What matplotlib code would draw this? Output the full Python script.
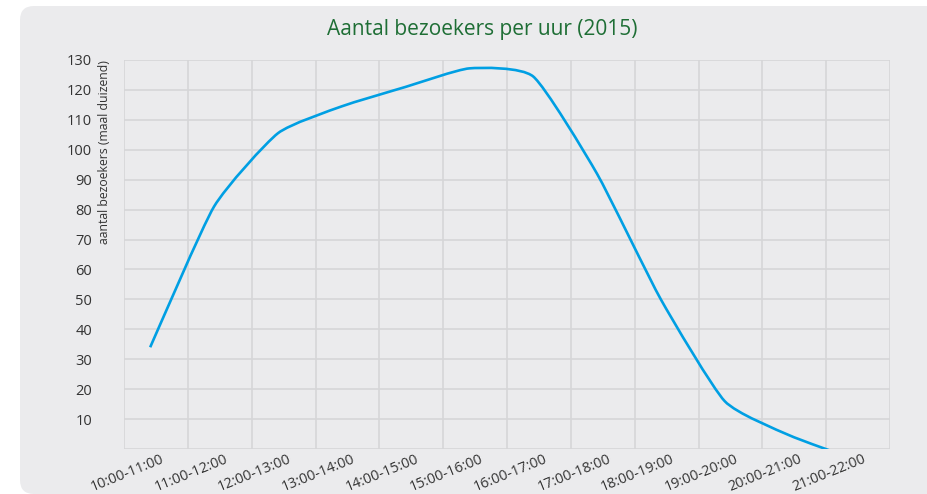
import numpy as np
import matplotlib
matplotlib.use('Agg')
import matplotlib.pyplot as plt
from matplotlib.patches import FancyBboxPatch, PathPatch
from matplotlib.path import Path

# data: aantal bezoekers per uur (maal duizend)
uren = ['10:00-11:00', '11:00-12:00', '12:00-13:00', '13:00-14:00',
        '14:00-15:00', '15:00-16:00', '16:00-17:00', '17:00-18:00',
        '18:00-19:00', '19:00-20:00', '20:00-21:00', '21:00-22:00']
bezoekers = [34, 81, 105.5, 114.5, 121, 127.2, 124.5, 92, 50, 16, 4.7, -3.2]
y_ticks = [0, 10, 20, 30, 40, 50, 60, 70, 80, 90, 100, 110, 120, 130]

W, H = 927, 494
plt.rcParams['font.family'] = ['Open Sans', 'DejaVu Sans']


def smooth_path(xs, ys, t=0.55):
    # catmull-rom als bezier-curves, zoals een 'vloeiende lijn' in Excel
    p = np.column_stack([xs, ys]).astype(float)
    verts = [p[0]]
    codes = [Path.MOVETO]
    n = len(p)
    for i in range(n - 1):
        p0 = p[i - 1] if i > 0 else p[i]
        p3 = p[i + 2] if i + 2 < n else p[i + 1]
        c1 = p[i] + (p[i + 1] - p0) / 6 * t
        c2 = p[i + 1] - (p3 - p[i]) / 6 * t
        verts += [c1, c2, p[i + 1]]
        codes += [Path.CURVE4] * 3
    return Path(verts, codes)


fig = plt.figure(figsize=(W / 100, H / 100), dpi=100)
fig.patch.set_facecolor('white')

# grijs paneel met ronde hoeken (rechterkant loopt door buiten beeld)
panel = FancyBboxPatch((20 / W, 0), 2.0, 488 / H,
                       boxstyle='round,pad=0,rounding_size=%f' % (14 / W),
                       mutation_aspect=W / H, transform=fig.transFigure,
                       facecolor='#ebebed', edgecolor='none', zorder=0,
                       clip_on=False)
fig.add_artist(panel)

ax = fig.add_axes([124 / W, 45 / H, 766 / W, 389 / H])
ax.set_facecolor('#ebebed')
ax.set_axisbelow(True)

x = np.arange(len(uren))
ax.add_patch(PathPatch(smooth_path(x, bezoekers), facecolor='none',
                       edgecolor='#009fe3', lw=1.9, joinstyle='round', zorder=3))

ax.set_xlim(-0.41, len(uren) - 0.41)
ax.set_ylim(0, 130)

# verticale rasterlijnen tussen de uren
ax.set_xticks(np.arange(len(uren) + 1) - 0.41, minor=True)
ax.set_xticks(x + 0.16)
ax.set_xticklabels(uren, rotation=22, ha='right', rotation_mode='anchor',
                   fontsize=10.4, color='#333333')
ax.set_yticks(y_ticks)
ax.set_yticklabels(['' if v == 0 else str(v) for v in y_ticks],
                   fontsize=10.5, color='#333333')

ax.tick_params(axis='both', which='both', length=0)
ax.tick_params(axis='y', pad=23)
ax.tick_params(axis='x', pad=2)
ax.grid(which='minor', axis='x', color='#d6d6d8', lw=1.2)
ax.grid(which='major', axis='y', color='#d6d6d8', lw=1.2)
for s in ax.spines.values():
    s.set_visible(False)

ax.text(-20 / 766, 1.0, 'aantal bezoekers (maal duizend)', transform=ax.transAxes,
        rotation=90, ha='center', va='top', fontsize=8.8, color='#333333')

fig.text(482 / W, 1 - 30 / H, 'Aantal bezoekers per uur (2015)',
         ha='center', va='center', fontsize=15, color='#1e6e35')

fig.savefig('out.png', dpi=100)
